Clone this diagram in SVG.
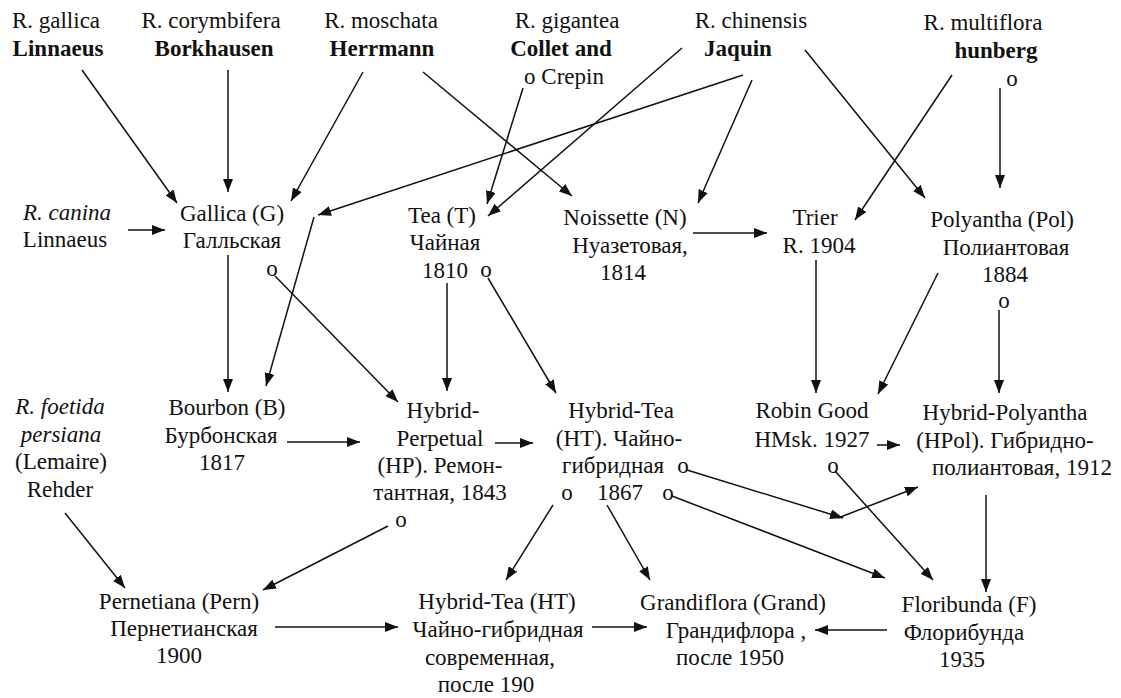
<svg xmlns="http://www.w3.org/2000/svg" width="1121" height="698" viewBox="0 0 1121 698" font-family="Liberation Serif, serif">
<style>
text{font-family:'Liberation Serif',serif;font-size:23px;fill:#111;text-anchor:middle}
.b{font-weight:bold}
.i{font-style:italic}
.c line{stroke:#111;stroke-width:1.5;fill:none;marker-end:url(#ah)}
</style>
<defs>
<marker id="ah" markerUnits="userSpaceOnUse" markerWidth="14" markerHeight="10" refX="13" refY="5" orient="auto">
<path d="M0,0 L13,5 L0,10 z" fill="#111"/>
</marker>
</defs>
<rect width="1121" height="698" fill="#fff"/>
<g id="gallica_sp"><text x="56" y="28">R. gallica</text><text class="b" x="58" y="56">Linnaeus</text></g>
<g id="corymbifera"><text x="211" y="28">R. corymbifera</text><text class="b" x="214" y="56">Borkhausen</text></g>
<g id="moschata"><text x="381" y="28">R. moschata</text><text class="b" x="382" y="56">Herrmann</text></g>
<g id="gigantea"><text x="567" y="28">R. gigantea</text><text class="b" x="561" y="56">Collet and</text><text x="564" y="84">o Crepin</text></g>
<g id="chinensis"><text x="751" y="28">R. chinensis</text><text class="b" x="738" y="56">Jaquin</text></g>
<g id="multiflora"><text x="983" y="30">R. multiflora</text><text class="b" x="996" y="58">hunberg</text><text x="1012" y="86">o</text></g>
<g id="canina"><text class="i" x="67" y="220">R. canina</text><text x="65" y="247">Linnaeus</text></g>
<g id="gallica"><text x="232" y="221">Gallica (G)</text><text x="232" y="248">Галльская</text><text x="272" y="276">o</text></g>
<g id="tea"><text x="442" y="223">Tea (T)</text><text x="445" y="250">Чайная</text><text x="445" y="278">1810</text><text x="486" y="277">o</text></g>
<g id="noisette"><text x="625" y="225">Noissette (N)</text><text x="630" y="253">Нуазетовая,</text><text x="623" y="280">1814</text></g>
<g id="trier"><text x="815" y="225">Trier</text><text x="819" y="253">R. 1904</text></g>
<g id="polyantha"><text x="1002" y="227">Polyantha (Pol)</text><text x="1006" y="255">Полиантовая</text><text x="1005" y="282">1884</text><text x="1004" y="308">o</text></g>
<g id="foetida"><text class="i" x="60" y="414">R. foetida</text><text class="i" x="61" y="442">persiana</text><text x="61" y="469">(Lemaire)</text><text x="60" y="497">Rehder</text></g>
<g id="bourbon"><text x="227" y="415">Bourbon (B)</text><text x="221" y="443">Бурбонская</text><text x="222" y="470">1817</text></g>
<g id="hp"><text x="443" y="418">Hybrid-</text><text x="440" y="446">Perpetual</text><text x="440" y="473">(HP). Ремон-</text><text x="440" y="500">тантная, 1843</text><text x="401" y="527">o</text></g>
<g id="ht"><text x="621" y="418">Hybrid-Tea</text><text x="619" y="446">(HT). Чайно-</text><text x="613" y="473">гибридная</text><text x="683" y="473">o</text><text x="567" y="500">o</text><text x="620" y="500">1867</text><text x="668" y="500">o</text></g>
<g id="robin"><text x="812" y="418">Robin Good</text><text x="812" y="447">HMsk. 1927</text><text x="833" y="473">o</text></g>
<g id="hpol"><text x="1005" y="420">Hybrid-Polyantha</text><text x="1005" y="448">(HPol). Гибридно-</text><text x="1022" y="475">полиантовая, 1912</text></g>
<g id="pern"><text x="179" y="609">Pernetiana (Pern)</text><text x="184" y="636">Пернетианская</text><text x="179" y="663">1900</text></g>
<g id="htmod"><text x="497" y="609">Hybrid-Tea (HT)</text><text x="498" y="637">Чайно-гибридная</text><text x="490" y="665">современная,</text><text x="486" y="692">после 190</text></g>
<g id="grand"><text x="733" y="610">Grandiflora (Grand)</text><text x="736" y="638">Грандифлора ,</text><text x="730" y="665">после 1950</text></g>
<g id="flori"><text x="969" y="612">Floribunda (F)</text><text x="964" y="640">Флорибунда</text><text x="962" y="667">1935</text></g>
<g id="connectors" class="c">
<line x1="82" y1="70" x2="177" y2="203"/>
<line x1="228" y1="70" x2="228" y2="192"/>
<line x1="363" y1="72" x2="291" y2="201"/>
<line x1="423" y1="72" x2="572" y2="196"/>
<line x1="523" y1="88" x2="487" y2="204"/>
<line x1="682" y1="48" x2="488" y2="216"/>
<line x1="743" y1="75" x2="318" y2="215"/>
<line x1="314" y1="217" x2="266" y2="386"/>
<line x1="752" y1="80" x2="698" y2="203"/>
<line x1="805" y1="50" x2="925" y2="198"/>
<line x1="952" y1="75" x2="855" y2="220"/>
<line x1="1000" y1="88" x2="1000" y2="188"/>
<line x1="128" y1="230" x2="165" y2="230"/>
<line x1="228" y1="255" x2="228" y2="392"/>
<line x1="275" y1="276" x2="398" y2="402"/>
<line x1="447" y1="283" x2="447" y2="391"/>
<line x1="488" y1="278" x2="556" y2="393"/>
<line x1="693" y1="233" x2="767" y2="233"/>
<line x1="816" y1="260" x2="816" y2="393"/>
<line x1="938" y1="273" x2="878" y2="394"/>
<line x1="999" y1="310" x2="999" y2="393"/>
<line x1="287" y1="442" x2="360" y2="442"/>
<line x1="495" y1="443" x2="533" y2="443"/>
<line x1="877" y1="445" x2="900" y2="445"/>
<line x1="388" y1="526" x2="263" y2="590"/>
<line x1="65" y1="513" x2="125" y2="588"/>
<line x1="553" y1="505" x2="506" y2="580"/>
<line x1="607" y1="505" x2="650" y2="580"/>
<line x1="687" y1="470" x2="843" y2="518"/>
<line x1="838" y1="518" x2="918" y2="487"/>
<line x1="672" y1="496" x2="885" y2="578"/>
<line x1="835" y1="471" x2="933" y2="580"/>
<line x1="986" y1="495" x2="986" y2="592"/>
<line x1="887" y1="630" x2="815" y2="630"/>
<line x1="275" y1="627" x2="398" y2="627"/>
<line x1="592" y1="627" x2="647" y2="627"/>
</g>
</svg>
